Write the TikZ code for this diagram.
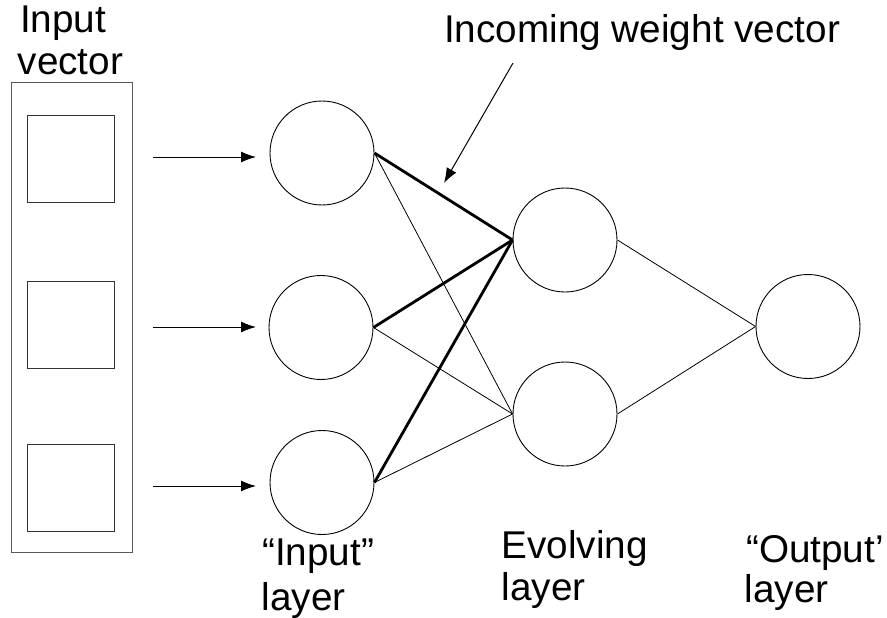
\documentclass[tikz,border=0pt]{standalone}
\usepackage{fontspec}
\setmainfont{Liberation Sans}
\usetikzlibrary{arrows.meta}
\tikzset{
  neuron/.style={draw=black, line width=0.9pt, circle, minimum size=104pt, inner sep=0pt},
  cell/.style={draw=black!80, line width=0.9pt, rectangle, minimum size=87pt, inner sep=0pt},
  lbl/.style={font=\fontsize{38.7}{42}\selectfont, inner sep=0pt, anchor=base west, text=black},
  thinedge/.style={line width=0.8pt, black},
  thickedge/.style={line width=2.8pt, black},
  feed/.style={line width=1pt, black, -{Latex[length=15pt,width=11pt]}},
}
\begin{document}
\begin{tikzpicture}[x=1pt,y=-1pt]
\useasboundingbox (0,0) rectangle (887,618);
% input vector box
\draw[draw=black!65, line width=1pt] (11,83) rectangle (132,552);
\node[cell] (s1) at (71.4,158.5) {};
\node[cell] (s2) at (71.4,324.5) {};
\node[cell] (s3) at (71.4,487.5) {};
% neurons
\node[neuron] (i1) at (322,153) {};
\node[neuron] (i2) at (321,327.5) {};
\node[neuron] (i3) at (322,482.5) {};
\node[neuron] (e1) at (565,240) {};
\node[neuron] (e2) at (565,414) {};
\node[neuron] (o)  at (808,326.5) {};
% input arrows
\coordinate (a1s) at (153,157); \coordinate (a1e) at (256,157);
\coordinate (a2s) at (153,327); \coordinate (a2e) at (256,327);
\coordinate (a3s) at (153,486); \coordinate (a3e) at (256,486);
\draw[feed] (a1s) -- (a1e);
\draw[feed] (a2s) -- (a2e);
\draw[feed] (a3s) -- (a3e);
% connections
\draw[thinedge] (i1.east) -- (e2.west);
\draw[thinedge] (i2.east) -- (e2.west);
\draw[thinedge] (i3.east) -- (e2.west);
\draw[thickedge] (i1.east) -- (e1.west);
\draw[thickedge] (i2.east) -- (e1.west);
\draw[thickedge] (i3.east) -- (e1.west);
\draw[thinedge] (e1.east) -- (o.west);
\draw[thinedge] (e2.east) -- (o.west);
% labels
\node[lbl] (t1a) at (20,33) {Input};
\node[lbl] (t1b) at (17.5,75) {vector};
\node[lbl] (t2) at (444,43) {Incoming weight vector};
\node[lbl] (t3a) at (262,565) {“Input”};
\node[lbl] (t3b) at (261.5,610) {layer};
\node[lbl] (t4a) at (501.5,558) {Evolving};
\node[lbl] (t4b) at (501.5,600) {layer};
\node[lbl] (t5a) at (746,562) {“Output’};
\node[lbl] (t5b) at (744.5,602) {layer};
% annotation arrow
\coordinate (ws) at (513,63);
\coordinate (we) at (444,183);
\draw[feed] (ws) -- (we);
\end{tikzpicture}
\end{document}
